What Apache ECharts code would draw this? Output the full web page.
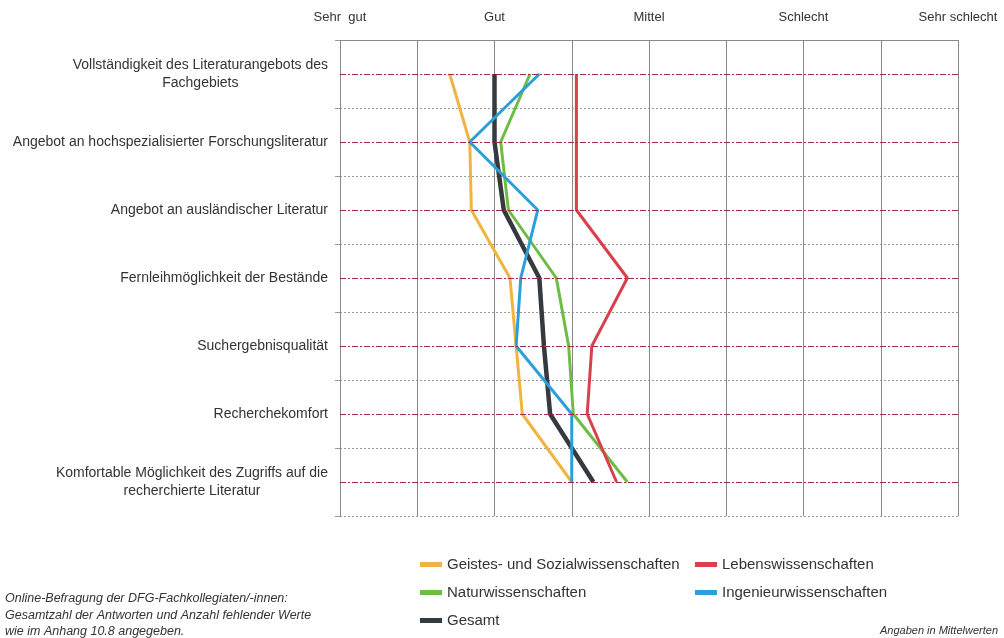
<!DOCTYPE html>
<html><head><meta charset="utf-8">
<script src="https://cdn.jsdelivr.net/npm/echarts@6/dist/echarts.min.js"></script>
<style>html,body{margin:0;padding:0;background:#fff}#c{width:1004px;height:638px}</style>
</head><body><div id="c"></div>
<script>
const categories = [
  'Vollständigkeit des Literaturangebots des\nFachgebiets',
  'Angebot an hochspezialisierter Forschungsliteratur',
  'Angebot an ausländischer Literatur',
  'Fernleihmöglichkeit der Bestände',
  'Suchergebnisqualität',
  'Recherchekomfort',
  'Komfortable Möglichkeit des Zugriffs auf die\nrecherchierte Literatur'
];
const scaleLabels = {1: 'Sehr  gut', 2: 'Gut', 3: 'Mittel', 4: 'Schlecht', 5: 'Sehr schlecht'};
const gesamt    = [2.00, 2.00, 2.06, 2.29, 2.32, 2.36, 2.64];
const geistes   = [1.71, 1.84, 1.85, 2.10, 2.14, 2.18, 2.50];
const natur     = [2.23, 2.04, 2.09, 2.40, 2.48, 2.51, 2.86];
const lebens    = [2.53, 2.53, 2.53, 2.86, 2.63, 2.60, 2.79];
const ingenieur = [2.29, 1.84, 2.28, 2.17, 2.14, 2.50, 2.50];
const seriesNames = ['Geistes- und Sozialwissenschaften', 'Lebenswissenschaften', 'Naturwissenschaften', 'Ingenieurwissenschaften', 'Gesamt'];

const colors = {
  'Geistes- und Sozialwissenschaften': '#f2b440',
  'Lebenswissenschaften': '#d8404c',
  'Naturwissenschaften': '#6dbd45',
  'Ingenieurwissenschaften': '#2b9fd9',
  'Gesamt': '#343a3e'
};
const font = 'Liberation Sans, Arial, sans-serif';

function mk(name, data, width) {
  return {
    name: name, type: 'line', data: data, symbol: 'none',
    lineStyle: {color: colors[name], width: width}, itemStyle: {color: colors[name]},
    animation: false
  };
}
const series = [
  mk('Geistes- und Sozialwissenschaften', geistes, 3),
  mk('Naturwissenschaften', natur, 3),
  mk('Lebenswissenschaften', lebens, 3),
  mk('Gesamt', gesamt, 4.5),
  mk('Ingenieurwissenschaften', ingenieur, 3)
];
series[0].markLine = {
  silent: true, symbol: 'none', label: {show: false}, animation: false,
  lineStyle: {color: '#9e2a4c', width: 1.2, type: [6, 2, 2, 2], opacity: 1},
  emphasis: {disabled: true},
  data: categories.map(c => ({yAxis: c}))
};

const legendPos = [[415, 552], [690, 552], [415, 580], [690, 580], [415, 608]];
const legends = seriesNames.map((n, i) => ({
  data: [n], left: legendPos[i][0], top: legendPos[i][1],
  icon: 'rect', itemWidth: 22, itemHeight: 5, itemGap: 10, selectedMode: false,
  textStyle: {fontFamily: font, fontSize: 15, color: '#333'}
}));

const chart = echarts.init(document.getElementById('c'), null, {renderer: 'canvas'});
chart.setOption({
  backgroundColor: '#fff',
  animation: false,
  grid: {left: 340, right: 46, top: 40, bottom: 122, containLabel: false},
  legend: legends,
  xAxis: {
    type: 'value', position: 'top', min: 1, max: 5, interval: 0.5,
    axisLine: {show: true, lineStyle: {color: '#888', width: 1}},
    axisTick: {show: false},
    axisLabel: {
      margin: 16, fontFamily: font, fontSize: 13, color: '#333',
      formatter: v => scaleLabels[v] || ''
    },
    splitLine: {show: true, lineStyle: {color: '#888', width: 1}}
  },
  yAxis: {
    type: 'category', data: categories, inverse: true, boundaryGap: true,
    axisLine: {show: false},
    axisTick: {show: true, length: 5, lineStyle: {color: '#999'}},
    axisLabel: {
      margin: 12, fontFamily: font, fontSize: 14, color: '#333', lineHeight: 18,
      formatter: v => v.split('\n').map(s => '{c|' + s + '}').join('\n'),
      rich: {c: {align: 'center', fontFamily: font, fontSize: 14, color: '#333', lineHeight: 18}}
    },
    splitLine: {show: true, lineStyle: {color: '#999', width: 1, type: [2, 2]}}
  },
  graphic: [
    {type: 'text', left: 5, top: 592, style: {text: 'Online-Befragung der DFG-Fachkollegiaten/-innen:', font: 'italic 12.5px ' + font, fill: '#333'}},
    {type: 'text', left: 5, top: 609, style: {text: 'Gesamtzahl der Antworten und Anzahl fehlender Werte', font: 'italic 12.5px ' + font, fill: '#333'}},
    {type: 'text', left: 5, top: 625, style: {text: 'wie im Anhang 10.8 angegeben.', font: 'italic 12.5px ' + font, fill: '#333'}},
    {type: 'text', right: 6, top: 625, style: {text: 'Angaben in Mittelwerten', font: 'italic 11px ' + font, fill: '#333'}}
  ],
  series: series
});
</script></body></html>
